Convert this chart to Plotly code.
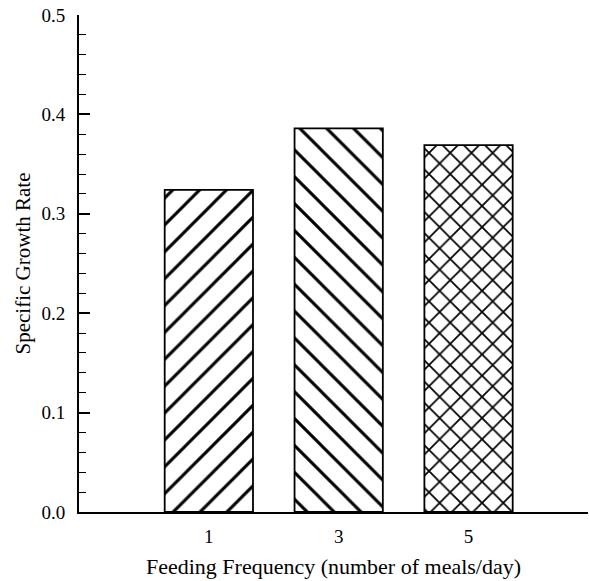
import plotly.graph_objects as go

categories = ["1", "3", "5"]
growth_rate = [0.324, 0.386, 0.369]
patterns = ["/", "\\", "x"]

font = "Liberation Serif, Times New Roman, serif"

fig = go.Figure()
fig.add_trace(go.Bar(
    x=categories, y=growth_rate,
    width=0.68,
    marker=dict(
        color="white",
        line=dict(color="black", width=1.8),
        pattern=dict(shape=patterns, size=[19, 19, 15], solidity=[0.16, 0.16, 0.22],
                     fgcolor="black", bgcolor="white", fgopacity=1),
    ),
    showlegend=False,
))

fig.update_layout(
    width=589, height=581,
    margin=dict(l=79, r=1, t=15, b=69),
    plot_bgcolor="white", paper_bgcolor="white",
    font=dict(family=font, size=20, color="black"),
)
fig.update_xaxes(
    type="category", range=[-1, 2.92],
    showline=True, linecolor="black", linewidth=1.8,
    ticks="outside", ticklen=6, tickcolor="rgba(0,0,0,0)",
    showgrid=False, zeroline=False,
    tickfont=dict(size=19),
    title=dict(text="Feeding Frequency (number of meals/day)", font=dict(size=22), standoff=13),
)
fig.update_yaxes(
    range=[0, 0.5], dtick=0.1, tickformat=".1f",
    showline=True, linecolor="black", linewidth=1.8,
    ticks="inside", ticklen=11, tickwidth=1.8, tickcolor="black",
    minor=dict(ticks="inside", ticklen=7, tickwidth=1.3, dtick=0.02, tickcolor="black"),
    showgrid=False, zeroline=False,
    tickfont=dict(size=19), ticklabelstandoff=8,
    title=dict(text="Specific Growth Rate", font=dict(size=21), standoff=5),
)

fig.write_html("out.html")
